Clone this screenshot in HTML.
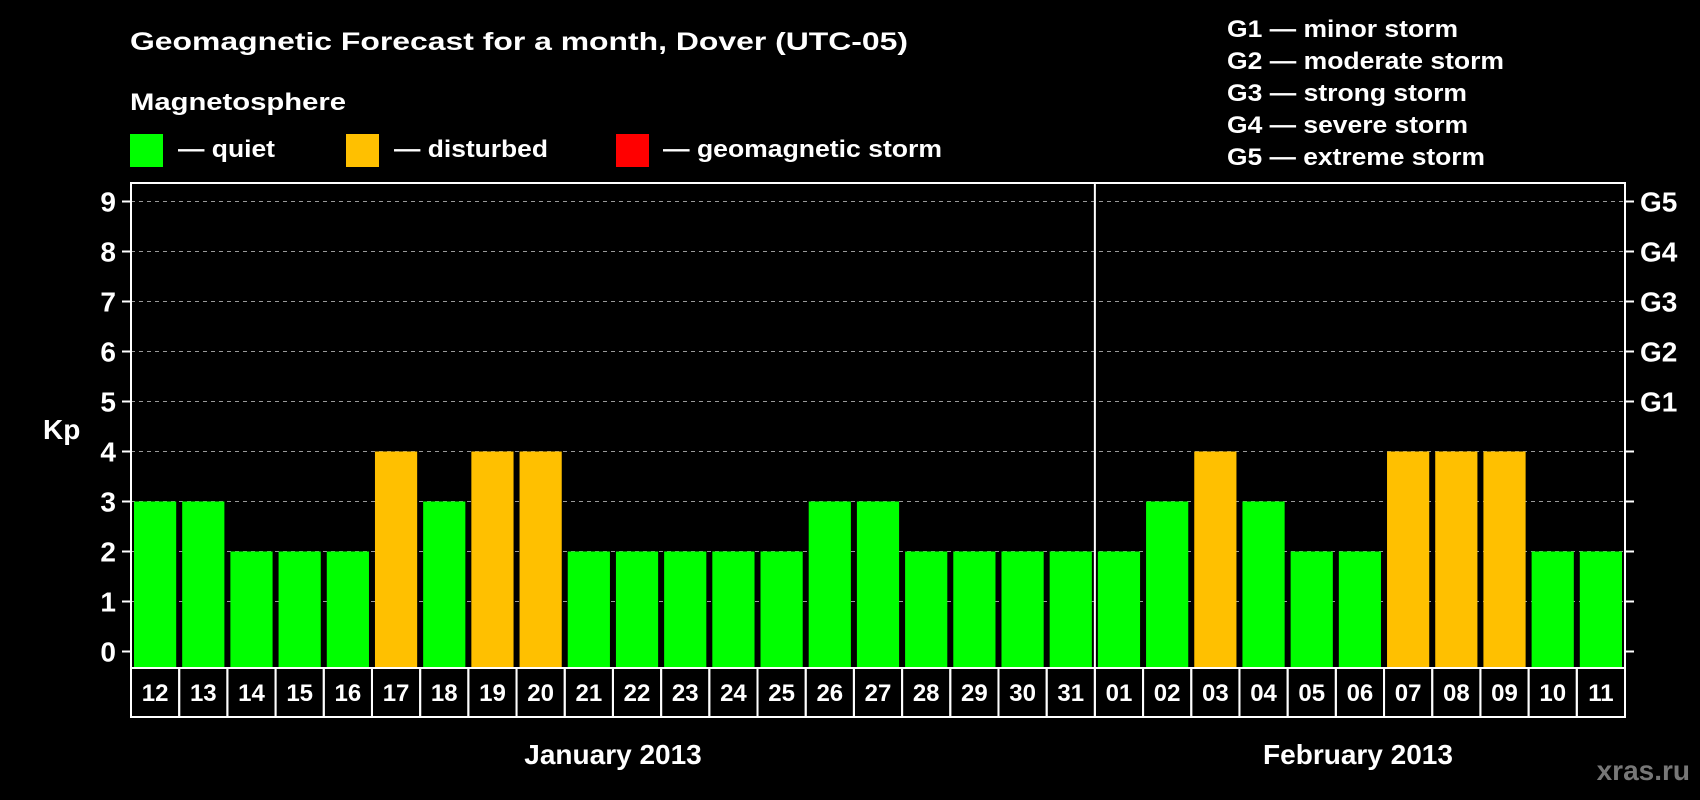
<!DOCTYPE html>
<html><head><meta charset="utf-8"><style>
html,body{margin:0;padding:0;background:#000;}
svg{display:block;font-family:"Liberation Sans",Arial,sans-serif;font-weight:bold;}
</style></head><body>
<svg id="chart" width="1700" height="800" viewBox="0 0 1700 800" xmlns="http://www.w3.org/2000/svg">
<rect width="1700" height="800" fill="#000"/>
<text x="130" y="50" fill="#fff" font-size="25" textLength="778" lengthAdjust="spacingAndGlyphs">Geomagnetic Forecast for a month, Dover (UTC-05)</text>
<text x="130" y="110" fill="#fff" font-size="24" textLength="216" lengthAdjust="spacingAndGlyphs">Magnetosphere</text>
<rect x="130" y="134" width="33" height="33" fill="#00ff00"/>
<text x="178" y="157" fill="#fff" font-size="24" textLength="97" lengthAdjust="spacingAndGlyphs">— quiet</text>
<rect x="346" y="134" width="33" height="33" fill="#ffc000"/>
<text x="394" y="157" fill="#fff" font-size="24" textLength="154" lengthAdjust="spacingAndGlyphs">— disturbed</text>
<rect x="616" y="134" width="33" height="33" fill="#ff0000"/>
<text x="663" y="157" fill="#fff" font-size="24" textLength="279" lengthAdjust="spacingAndGlyphs">— geomagnetic storm</text>
<g fill="#fff" font-size="24">
<text x="1227" y="37" textLength="231" lengthAdjust="spacingAndGlyphs">G1 — minor storm</text>
<text x="1227" y="69" textLength="277" lengthAdjust="spacingAndGlyphs">G2 — moderate storm</text>
<text x="1227" y="101" textLength="240" lengthAdjust="spacingAndGlyphs">G3 — strong storm</text>
<text x="1227" y="133" textLength="241" lengthAdjust="spacingAndGlyphs">G4 — severe storm</text>
<text x="1227" y="165" textLength="258" lengthAdjust="spacingAndGlyphs">G5 — extreme storm</text>
</g>
<text x="43" y="439" fill="#fff" font-size="28">Kp</text>
<g id="plot"></g>
<text x="613" y="764" fill="#fff" font-size="28" text-anchor="middle">January 2013</text>
<text x="1358" y="764" fill="#fff" font-size="28" text-anchor="middle">February 2013</text>
<text x="1690" y="780" fill="#777" font-size="28" text-anchor="end">xras.ru</text>
</svg>
<script>
const days = ["12","13","14","15","16","17","18","19","20","21","22","23","24","25","26","27","28","29","30","31","01","02","03","04","05","06","07","08","09","10","11"];
const kpValues = [3,3,2,2,2,4,3,4,4,2,2,2,2,2,3,3,2,2,2,2,2,3,4,3,2,2,4,4,4,2,2];
const yTicks = [0,1,2,3,4,5,6,7,8,9];
const gLabels = ["","","","","","G1","G2","G3","G4","G5"];
const monthBreakIndex = 20;

const NS = "http://www.w3.org/2000/svg";
const g = document.getElementById("plot");
const L = 131, R = 1625, T = 183, B = 668, Y0 = 651.5, UNIT = 50;
const bw = (R - L) / days.length;
const xs = i => L + i * bw;
const ys = v => Y0 - v * UNIT;
function mk(tag, attrs) { const e = document.createElementNS(NS, tag); for (const k in attrs) e.setAttribute(k, attrs[k]); g.appendChild(e); return e; }

yTicks.forEach((t, i) => {
  if (t > 0) {
    const gl = mk("line", {x1: L, x2: R, y1: ys(t), y2: ys(t), stroke: "#999", "stroke-width": 1, "stroke-dasharray": "4,4"});
    
    
  }
  const tl = mk("line", {x1: L - 9, x2: L, y1: ys(t), y2: ys(t), stroke: "#fff", "stroke-width": 2});
  
  
  const tr = mk("line", {x1: R, x2: R + 9, y1: ys(t), y2: ys(t), stroke: "#fff", "stroke-width": 2});
  
  
  const lb = mk("text", {x: 116, y: ys(t) + 10, fill: "#fff", "font-size": 28, "text-anchor": "end"});
  lb.textContent = t;
  
  
  if (gLabels[i]) {
    const gl2 = mk("text", {x: 1640, y: ys(t) + 10, fill: "#fff", "font-size": 28});
    gl2.textContent = gLabels[i];
    
    
  }
});

kpValues.forEach((v, i) => {
  const b = mk("rect", {x: xs(i) + 3, y: ys(v), width: bw - 6, height: B - ys(v), fill: v >= 5 ? "#ff0000" : (v >= 4 ? "#ffc000" : "#00ff00")});
  
  
  const cell = mk("rect", {x: xs(i), y: B, width: bw, height: 49, fill: "none", stroke: "#fff", "stroke-width": 2});
  
  
  const dl = mk("text", {x: xs(i) + bw / 2, y: B + 33, fill: "#fff", "font-size": 24, "text-anchor": "middle"});
  dl.textContent = days[i];
  
  
});

const frame = mk("path", {d: `M${L},${B} V${T} H${R} V${B}`, fill: "none", stroke: "#fff", "stroke-width": 2});


const div = mk("line", {x1: xs(monthBreakIndex), x2: xs(monthBreakIndex), y1: T, y2: B, stroke: "#fff", "stroke-width": 2});


</script>
</body></html>
